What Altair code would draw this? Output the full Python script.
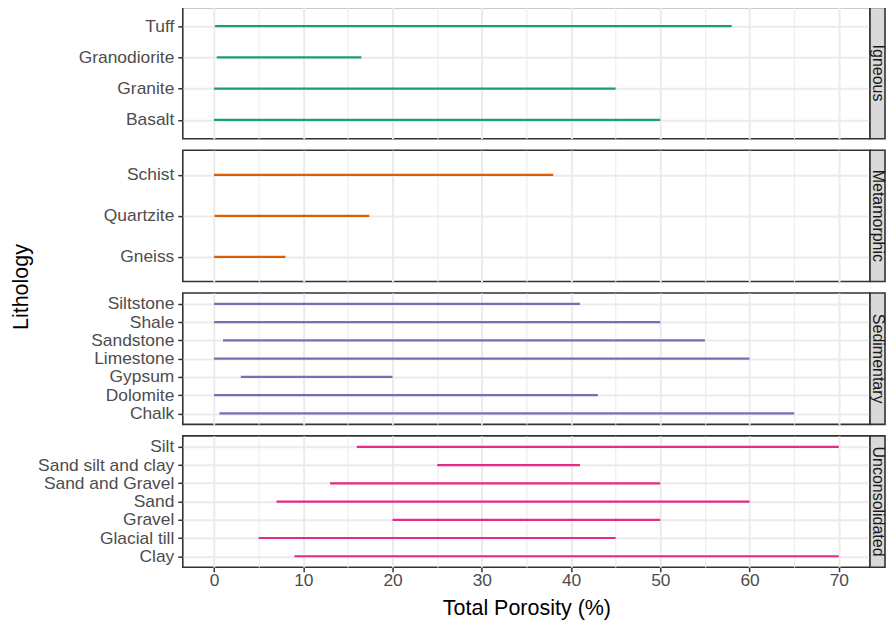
import altair as alt
import pandas as pd

# ---- data ----
groups = ["Igneous", "Metamorphic", "Sedimentary", "Unconsolidated"]
group_colors = ["#1B9E77", "#D95F02", "#7570B3", "#E7298A"]

igneous_rocks = ["Basalt", "Granite", "Granodiorite", "Tuff"]
igneous_min = [0, 0, 0.3, 0.1]
igneous_max = [50, 45, 16.5, 58]

metamorphic_rocks = ["Gneiss", "Quartzite", "Schist"]
metamorphic_min = [0, 0.05, 0]
metamorphic_max = [8, 17.4, 38]

sedimentary_rocks = ["Chalk", "Dolomite", "Gypsum", "Limestone", "Sandstone", "Shale", "Siltstone"]
sedimentary_min = [0.6, 0, 3, 0, 1, 0, 0]
sedimentary_max = [65, 43, 20, 60, 55, 50, 41]

unconsolidated_rocks = ["Clay", "Glacial till", "Gravel", "Sand", "Sand and Gravel", "Sand silt and clay", "Silt"]
unconsolidated_min = [9, 5, 20, 7, 13, 25, 16]
unconsolidated_max = [70, 45, 50, 60, 50, 41, 70]

x_grid_values = [0, 5, 10, 15, 20, 25, 30, 35, 40, 45, 50, 55, 60, 65, 70]
x_domain = [-3.5, 73.5]

# ---- layout / style ----
W, H = 688, 131.5
STRIP = 15
FONT = "Liberation Sans"
LABEL_COLOR = "#4D4D4D"
BORDER = "#333333"
GRID = "#EBEBEB"

panels_data = [
    (igneous_rocks, igneous_min, igneous_max),
    (metamorphic_rocks, metamorphic_min, metamorphic_max),
    (sedimentary_rocks, sedimentary_min, sedimentary_max),
    (unconsolidated_rocks, unconsolidated_min, unconsolidated_max),
]

grid_width = {"condition": {"test": "datum.value % 10 !== 0", "value": 1}, "value": 2}


def make_panel(i):
    name = groups[i]
    rocks, lo, hi = panels_data[i]
    color = group_colors[i]
    bottom = i == len(groups) - 1
    df = pd.DataFrame({"Lithology": rocks, "low": lo, "high": hi})
    order = sorted(rocks, reverse=True)

    if bottom:
        xaxis = alt.Axis(
            values=x_grid_values,
            title="Total Porosity (%)",
            labelExpr="datum.value % 10 === 0 ? datum.label : ''",
            tickOpacity={"condition": {"test": "datum.value % 10 !== 0", "value": 0}, "value": 1},
            grid=True, gridColor=GRID, gridWidth=grid_width,
            domain=False, tickColor=BORDER, tickWidth=1.5, tickSize=4.5,
            labelFontSize=17.4, labelColor=LABEL_COLOR, labelPadding=0, labelFont=FONT,
            titleFontSize=21.5, titleFont=FONT, titleColor="#000000",
            titleFontWeight="normal", titlePadding=8,
        )
    else:
        xaxis = alt.Axis(
            values=x_grid_values, title=None, labels=False, ticks=False,
            domain=False, grid=True, gridColor=GRID, gridWidth=grid_width,
        )

    yaxis = alt.Axis(
        title=None, domain=False, grid=True, gridColor=GRID, gridWidth=2,
        tickColor=BORDER, tickWidth=1.5, tickSize=5,
        labelFontSize=17.4, labelColor=LABEL_COLOR, labelPadding=4, labelFont=FONT,
        labelLimit=300,
    )

    segs = alt.Chart(df).mark_rule(strokeWidth=2.2, color=color, strokeCap="butt").encode(
        x=alt.X("low:Q", scale=alt.Scale(domain=x_domain, nice=False, zero=False), axis=xaxis),
        x2="high:Q",
        y=alt.Y("Lithology:N", sort=order, scale=alt.Scale(type="point", padding=0.6), axis=yaxis),
    )

    sdf = pd.DataFrame({"g": [name]})
    strip_rect = alt.Chart(sdf).mark_rect(
        fill="#D9D9D9", stroke=BORDER, strokeWidth=1.6
    ).encode(
        x=alt.value(W), x2=alt.value(W + STRIP), y=alt.value(0), y2=alt.value(H)
    )
    strip_text = alt.Chart(sdf).mark_text(
        angle=90, fontSize=16, font=FONT, color="#1A1A1A", align="center", baseline="middle"
    ).encode(
        x=alt.value(W + STRIP / 2), y=alt.value(H / 2), text="g:N"
    )

    layers = [segs, strip_rect, strip_text]
    if i == 1:
        ytitle = alt.Chart(pd.DataFrame({"t": ["Lithology"]})).mark_text(
            angle=270, fontSize=21.5, font=FONT, color="#000000", align="center", baseline="middle"
        ).encode(
            x=alt.value(-161), y=alt.value(H + 5.5), text="t:N"
        )
        layers.append(ytitle)

    return alt.layer(*layers).properties(width=W, height=H)


chart = alt.vconcat(
    *[make_panel(i) for i in range(len(groups))], spacing=11, bounds="flush"
).properties(
    padding={"left": 2, "top": -3, "right": 0, "bottom": 0}
).configure(
    font=FONT
).configure_view(
    stroke=BORDER, strokeWidth=1.6, fill="white"
)

chart.save("out.html", embed_options={"renderer": "svg", "actions": False})
